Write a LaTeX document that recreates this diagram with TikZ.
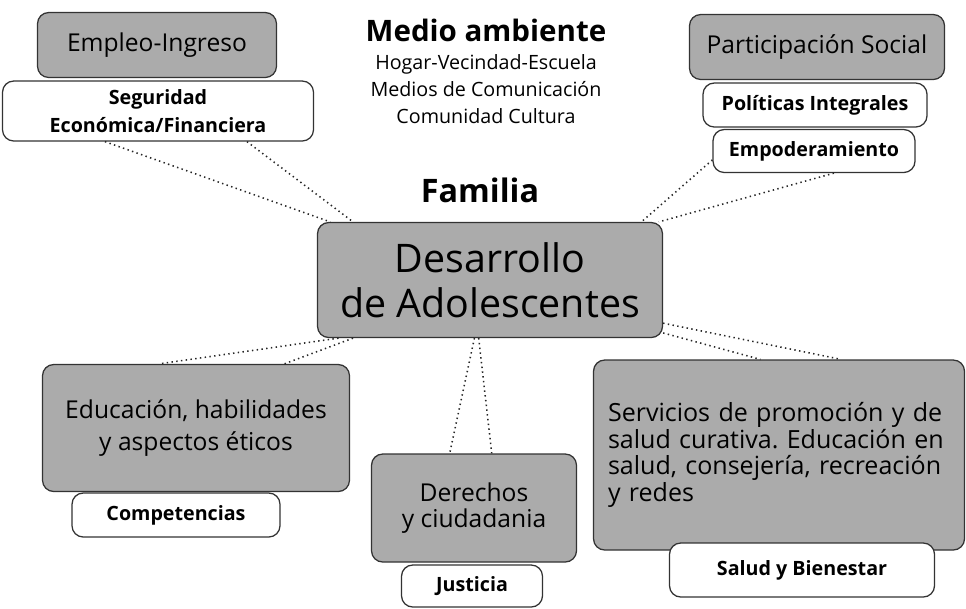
\documentclass[tikz,border=0pt]{standalone}
\usepackage{fontspec}
\setmainfont{Open Sans}
\frenchspacing
\begin{document}
\begin{tikzpicture}[x=0.025cm,y=-0.025cm,
    wh/.style 2 args={minimum width=#1*0.025cm,minimum height=#2*0.025cm,inner sep=0pt},
    gris/.style={draw=black!80,line width=0.9pt,fill=black!33,rounded corners=8pt,align=center,
      font=\fontsize{17.5}{19}\selectfont},
    blanca/.style={draw=black!80,line width=0.9pt,fill=white,rounded corners=8pt,align=center,
      font=\fontsize{14}{20}\selectfont\bfseries},
    puntos/.style={dash pattern=on 1pt off 2.4pt,line width=1.1pt,black!85}]
  \useasboundingbox (0,0) rectangle (966,608);
  \node[gris,wh={239}{65}] (empleo) at (157,45) {Empleo-Ingreso};
  \node[blanca,wh={311}{60}] (seguridad) at (158,111) {Seguridad\\Económica/Financiera};
  \node[font=\fontsize{21}{24}\selectfont\bfseries] (medio) at (486,30) {Medio ambiente};
  \node[align=center,font=\fontsize{14}{19.2}\selectfont] (hogar) at (486,89)
    {Hogar-Vecindad-Escuela\\Medios de Comunicación\\Comunidad Cultura};
  \node[font=\fontsize{23}{26}\selectfont\bfseries] (familia) at (480,190) {Familia};
  \node[gris,wh={255}{65}] (participacion) at (817,47) {Participación Social};
  \node[blanca,wh={224}{44}] (politicas) at (815,105) {Políticas Integrales};
  \node[blanca,wh={202}{43}] (empoderamiento) at (814,151) {Empoderamiento};
  \node[gris,wh={345}{115},font=\fontsize{28}{32}\selectfont] (centro) at (490,280)
    {Desarrollo\\de Adolescentes};
  \node[gris,wh={307}{127},font=\fontsize{17.5}{23}\selectfont] (educacion) at (196,428)
    {Educación, habilidades\\y aspectos éticos};
  \node[blanca,wh={208}{44}] (competencias) at (176,515) {Competencias};
  \node[gris,wh={205}{108},font=\fontsize{17.5}{18.5}\selectfont] (derechos) at (474,508)
    {Derechos\\y ciudadania};
  \node[blanca,wh={141}{42}] (justicia) at (472,586) {Justicia};
  \node[gris,wh={371}{190},align=left,text width=342*0.025cm,font=\fontsize{17.8}{19}\selectfont]
    (servicios) at (779,455) {Servicios de promoción y de\\salud curativa. Educación en\\salud, consejería, recreación\\y redes};
  \node[blanca,wh={265}{54}] (salud) at (802,570) {Salud y Bienestar};
  \begin{scope}[puntos]
    \draw (seguridad.210) to (centro.160);
    \draw (seguridad.-19) to (centro.157);
    \draw (empoderamiento.185) to (centro.21.5);
    \draw (empoderamiento.-48) to (centro.19);
    \draw (centro.201) to (educacion.120);
    \draw (centro.203) to (educacion.36);
    \draw (centro.255) to (derechos.114);
    \draw (centro.259) to (derechos.72);
    \draw (centro.-14) to (servicios.57.5);
    \draw (centro.-17) to (servicios.101.5);
  \end{scope}
\end{tikzpicture}
\end{document}
